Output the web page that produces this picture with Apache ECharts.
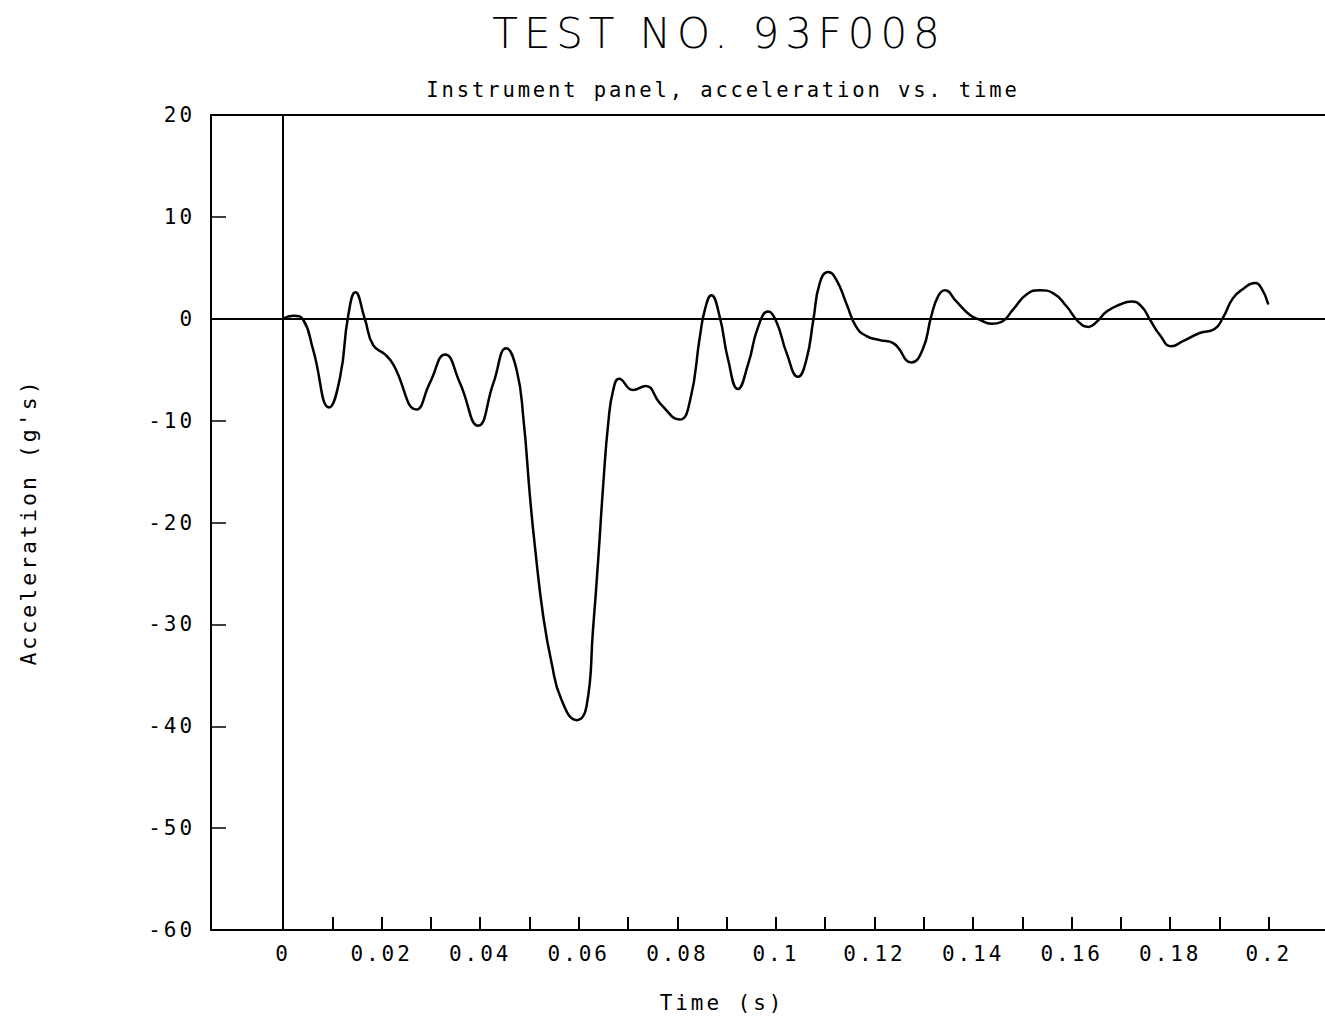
<!DOCTYPE html>
<html>
<head>
<meta charset="utf-8">
<title>TEST NO. 93F008</title>
<script src="https://cdn.jsdelivr.net/npm/echarts@6/dist/echarts.min.js"></script>
<style>
  html, body { margin: 0; padding: 0; background: #fff; }
  #chart { width: 1325px; height: 1020px; }
  /* plotter-style lettering: wide, evenly spaced characters */
  #chart text { letter-spacing: 0.14em; }
</style>
</head>
<body>
<div id="chart"></div>
<script>
// Instrument panel acceleration trace (time in s, acceleration in g's)
const time = [
  0.0000, 0.0021, 0.0041, 0.0061, 0.0094, 0.0116, 0.0132, 0.0147, 0.0166, 0.0183,
  0.0207, 0.0224, 0.0271, 0.0298, 0.0329, 0.0359, 0.0396, 0.0427, 0.0453, 0.0474,
  0.0488, 0.0501, 0.0511, 0.0528, 0.0545, 0.0565, 0.0596, 0.0616, 0.0629, 0.0640,
  0.0650, 0.0660, 0.0670, 0.0682, 0.0710, 0.0736, 0.0765, 0.0805, 0.0826, 0.0846,
  0.0856, 0.0869, 0.0886, 0.0903, 0.0923, 0.0944, 0.0964, 0.0984, 0.1001, 0.1022,
  0.1045, 0.1062, 0.1076, 0.1089, 0.1106, 0.1123, 0.1143, 0.1163, 0.1184, 0.1211,
  0.1238, 0.1275, 0.1298, 0.1315, 0.1329, 0.1343, 0.1366, 0.1393, 0.1414, 0.1437,
  0.1458, 0.1481, 0.1509, 0.1536, 0.1563, 0.1590, 0.1614, 0.1634, 0.1651, 0.1671,
  0.1698, 0.1721, 0.1742, 0.1759, 0.1779, 0.1802, 0.1826, 0.1860, 0.1890, 0.1907,
  0.1927, 0.1947, 0.1972, 0.1985, 0.1999
];
const accel = [
  0.0, 0.3, -0.1, -3.0, -8.7, -5.7, 0.2, 2.6, 0.0, -2.6,
  -3.5, -4.5, -8.9, -6.3, -3.5, -6.3, -10.5, -6.3, -2.9, -5.0,
  -9.9, -17.4, -22.3, -29.2, -33.8, -37.4, -39.4, -38.0, -30.5, -23.3,
  -16.1, -10.2, -7.0, -5.9, -7.0, -6.6, -8.3, -9.9, -8.0, -1.7,
  0.9, 2.3, 0.2, -4.0, -6.9, -4.4, -0.8, 0.7, -0.3, -3.4,
  -5.7, -4.0, -0.1, 3.5, 4.6, 3.8, 1.5, -0.8, -1.7, -2.1,
  -2.4, -4.3, -3.0, 0.2, 2.2, 2.8, 1.7, 0.4, -0.1, -0.5,
  -0.3, 0.9, 2.4, 2.8, 2.5, 1.2, -0.3, -0.8, -0.3, 0.7,
  1.4, 1.7, 1.2, -0.1, -1.6, -2.7, -2.2, -1.4, -1.0, 0.1,
  2.0, 2.9, 3.5, 3.0, 1.4
];

// Axis tick positions and labels
const timeTicks = [0, 0.01, 0.02, 0.03, 0.04, 0.05, 0.06, 0.07, 0.08, 0.09, 0.1,
                   0.11, 0.12, 0.13, 0.14, 0.15, 0.16, 0.17, 0.18, 0.19, 0.2];
const timeLabels = [0, 0.02, 0.04, 0.06, 0.08, 0.1, 0.12, 0.14, 0.16, 0.18, 0.2];

const FONT = '"DejaVu Sans Mono", "Liberation Mono", monospace';
const INK = '#000';
const T_MIN = -0.0146;
const T_MAX = 0.2114;

const chart = echarts.init(document.getElementById('chart'), null, { renderer: 'svg' });

chart.setOption({
  backgroundColor: '#fff',
  animation: false,
  grid: { left: 211, right: 0, top: 115, bottom: 90 },
  xAxis: [
    {
      type: 'value',
      min: T_MIN,
      max: T_MAX,
      position: 'bottom',
      axisLine: { show: true, onZero: false, lineStyle: { color: INK, width: 2 } },
      axisTick: { show: true, inside: true, length: 13, customValues: timeTicks,
                  lineStyle: { color: INK, width: 2 } },
      axisLabel: { show: true, customValues: timeLabels, margin: 13, color: INK,
                   fontFamily: FONT, fontSize: 21 },
      splitLine: { show: false }
    },
    {
      type: 'value',
      min: T_MIN,
      max: T_MAX,
      position: 'top',
      axisLine: { show: true, onZero: false, lineStyle: { color: INK, width: 2 } },
      axisTick: { show: false },
      axisLabel: { show: false },
      splitLine: { show: false }
    }
  ],
  yAxis: {
    type: 'value',
    min: -60,
    max: 20,
    interval: 10,
    axisLine: { show: true, onZero: false, lineStyle: { color: INK, width: 2 } },
    axisTick: { show: true, inside: true, length: 15, lineStyle: { color: INK, width: 1.5 } },
    axisLabel: { color: INK, margin: 16, fontFamily: FONT, fontSize: 21 },
    splitLine: { show: false }
  },
  series: [
    {
      type: 'line',
      data: time.map((t, i) => [t, accel[i]]),
      showSymbol: false,
      smooth: 0.5,
      lineStyle: { color: INK, width: 2.5 },
      markLine: {
        silent: true,
        symbol: ['none', 'none'],
        label: { show: false },
        lineStyle: { color: INK, type: 'solid', width: 2 },
        data: [{ yAxis: 0 }, { xAxis: 0 }]
      }
    }
  ],
  graphic: [
    {
      type: 'text', x: 719, y: 33,
      style: { text: 'TEST NO. 93F008', fill: INK, fontFamily: '"DejaVu Sans", sans-serif',
               fontWeight: 200, fontSize: 42, textAlign: 'center', textVerticalAlign: 'middle' }
    },
    {
      type: 'text', x: 723, y: 90,
      style: { text: 'Instrument panel, acceleration vs. time', fill: INK, fontFamily: FONT,
               fontSize: 20.5, textAlign: 'center', textVerticalAlign: 'middle' }
    },
    {
      type: 'text', x: 722, y: 1003,
      style: { text: 'Time (s)', fill: INK, fontFamily: FONT,
               fontSize: 21, textAlign: 'center', textVerticalAlign: 'middle' }
    },
    {
      type: 'text', x: 28, y: 522, rotation: Math.PI / 2,
      style: { text: "Acceleration (g's)", fill: INK, fontFamily: FONT,
               fontSize: 21.5, textAlign: 'center', textVerticalAlign: 'middle' }
    }
  ]
});
</script>
</body>
</html>
